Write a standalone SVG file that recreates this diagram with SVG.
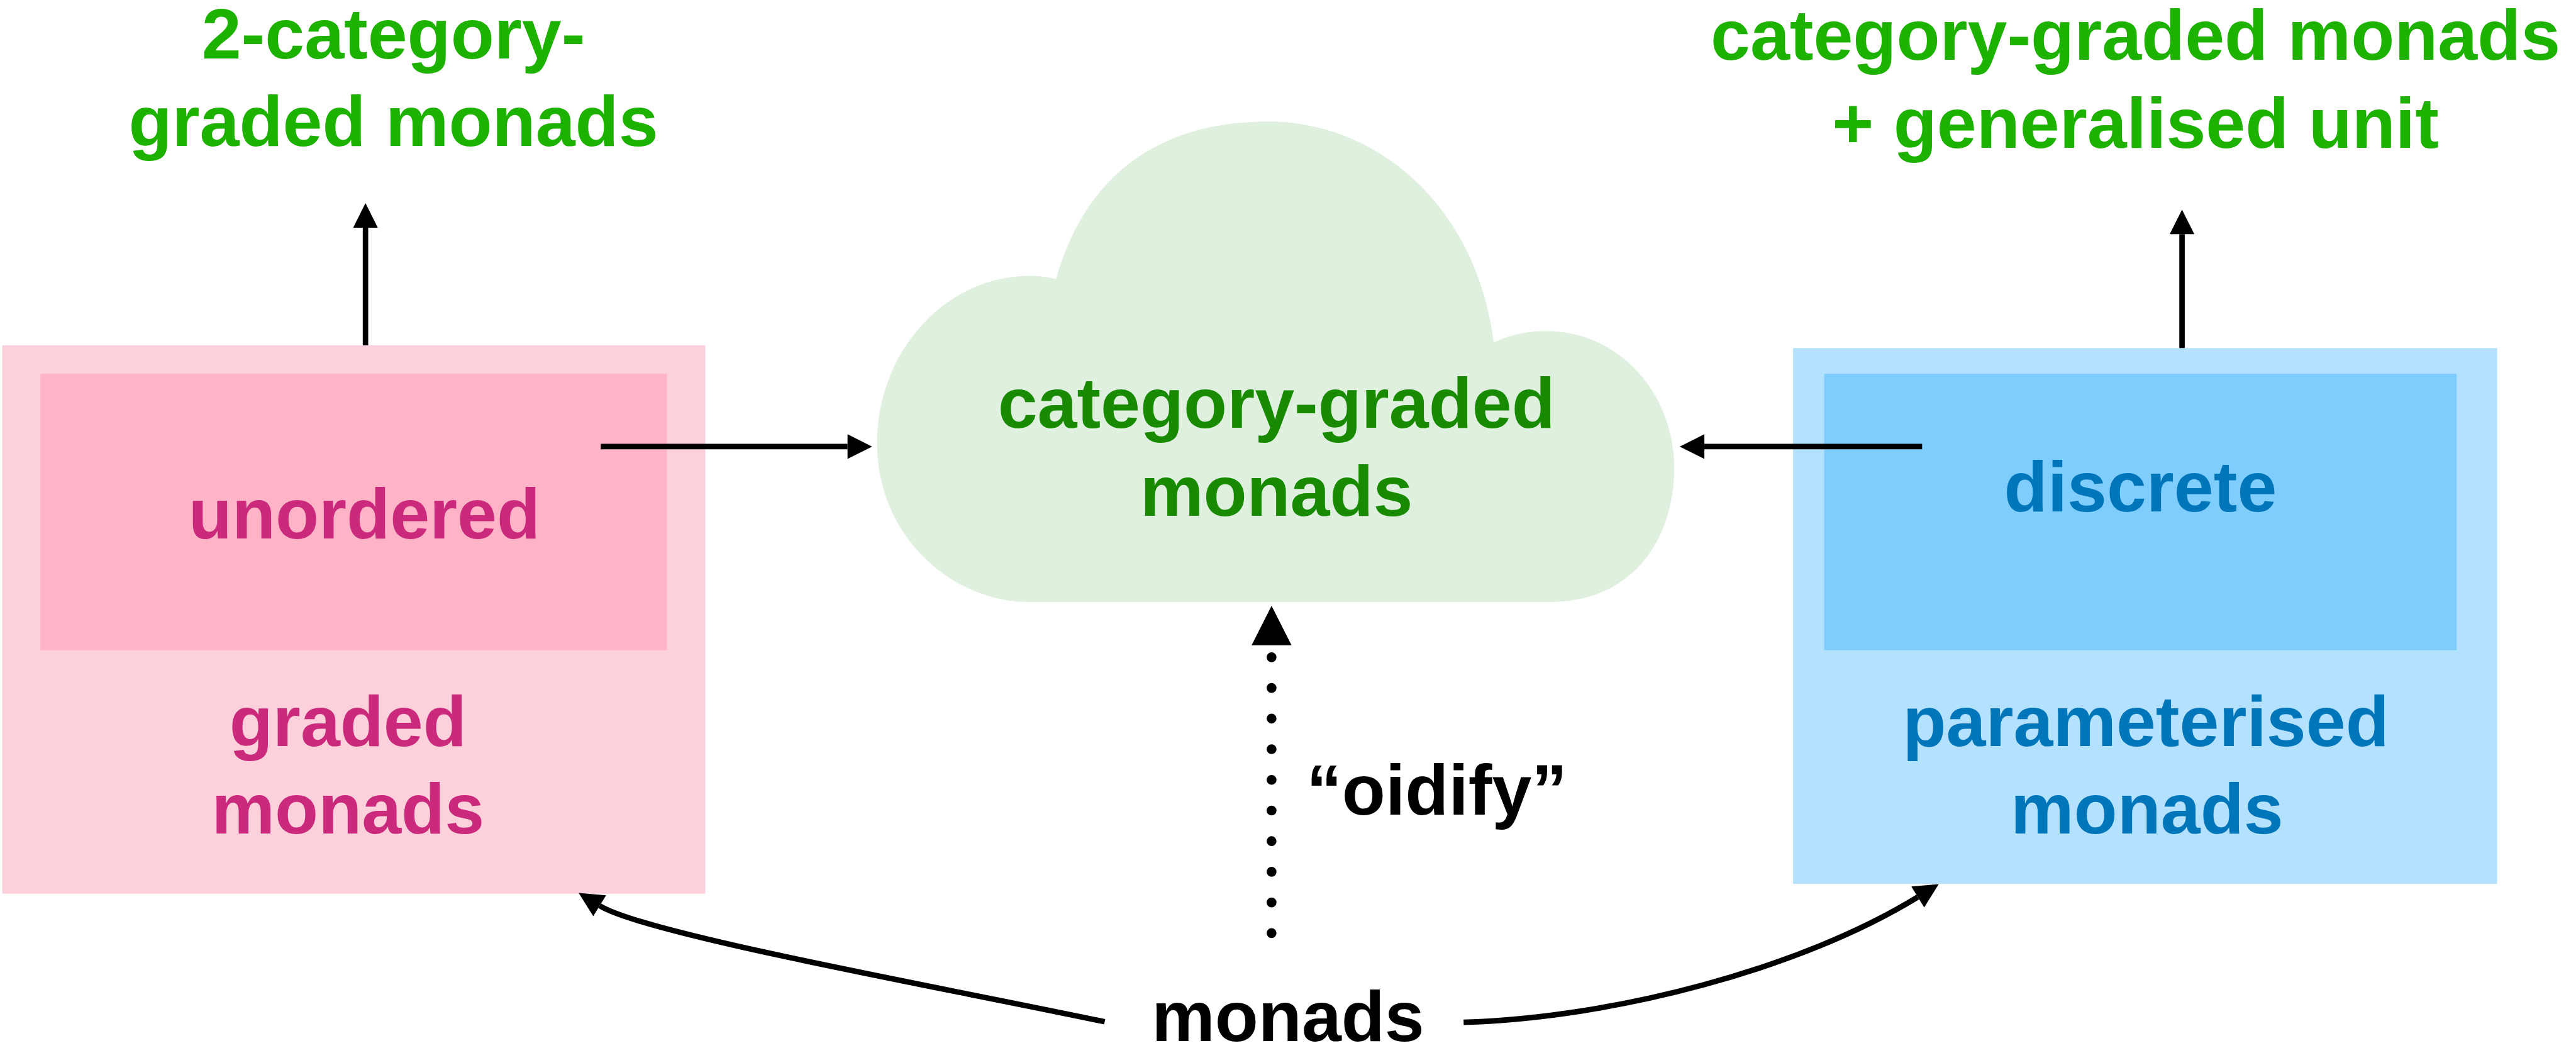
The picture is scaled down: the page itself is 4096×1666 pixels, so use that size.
<svg xmlns="http://www.w3.org/2000/svg" width="4096" height="1666" viewBox="0 0 4096 1666">
<style>
.lbl{font-family:"Liberation Sans",Arial,Helvetica,sans-serif;font-weight:bold;font-size:130px;text-anchor:middle}
.green{fill:#1DB100}
.dkgreen{fill:#178A00}
.pink{fill:#CB297B}
.blue{fill:#0076BA}
.black{fill:#000000}
.conn{fill:none;stroke:#000000;stroke-width:10}
.dots{fill:none;stroke:#000000;stroke-width:18;stroke-linecap:round;stroke-dasharray:0 56;stroke-dashoffset:51}
</style>
<defs>
<marker id="arrow" markerUnits="userSpaceOnUse" viewBox="0 0 45 45" markerWidth="45" markerHeight="45" refX="0" refY="22.5" orient="auto" overflow="visible">
<path d="M0,0 L45,22.5 L0,45 Z" fill="#000000"/>
</marker>
<marker id="arrowBig" markerUnits="userSpaceOnUse" viewBox="0 0 72 73" markerWidth="72" markerHeight="73" refX="0" refY="36.5" orient="auto" overflow="visible">
<path d="M0,0 L72,36.5 L0,73 Z" fill="#000000"/>
</marker>
</defs>
<rect width="4096" height="1666" fill="#FFFFFF"/>
<g transform="scale(0.870)">
<g id="node-2cat">
<text class="lbl green" x="719" y="107">2-category-</text>
<text class="lbl green" x="719" y="267">graded monads</text>
</g>
<g id="node-catgen">
<text class="lbl green" x="3903" y="109">category-graded monads</text>
<text class="lbl green" x="3903" y="270">+ generalised unit</text>
</g>
<g id="node-graded">
<rect x="4" y="631" width="1285" height="1002" fill="#FDD1DC"/>
<g id="node-unordered">
<rect x="74" y="683" width="1145" height="505" fill="#FFB3C7"/>
<text class="lbl pink" x="666" y="984">unordered</text>
</g>
<text class="lbl pink" x="636" y="1363">graded</text>
<text class="lbl pink" x="636" y="1523">monads</text>
</g>
<g id="node-param">
<rect x="3277" y="636" width="1287" height="979" fill="#B4E1FD"/>
<g id="node-discrete">
<rect x="3334" y="683" width="1156" height="505" fill="#7FCDFD"/>
<text class="lbl blue" x="3912" y="934">discrete</text>
</g>
<text class="lbl blue" x="3922" y="1363">parameterised</text>
<text class="lbl blue" x="3924" y="1523">monads</text>
</g>
<g id="node-cloud">
<path d="M1880 1100 C1740 1100 1603 980 1603 810 C1603 640 1730 504 1882 504 C1900 504 1915 506 1930 510 C1990 300 2140 222 2317 222 C2520 222 2700 380 2730 626 C2760 612 2790 605 2826 605 C2960 605 3060 720 3060 854 C3060 990 2980 1100 2833 1100 Z" fill="#DFF0DF"/>
<text class="lbl dkgreen" x="2333" y="782">category-graded</text>
<text class="lbl dkgreen" x="2333" y="942">monads</text>
</g>
<g id="node-monads">
<text class="lbl black" x="2354" y="1902">monads</text>
</g>
<g id="connectors">
<path class="conn" d="M668 631 V416" marker-end="url(#arrow)"/>
<path class="conn" d="M3988 636 V428" marker-end="url(#arrow)"/>
<path class="conn" d="M1098 816 H1549" marker-end="url(#arrow)"/>
<path class="conn" d="M3513 816 H3115" marker-end="url(#arrow)"/>
<path class="conn" d="M2019 1867 C1700 1800 1181 1707 1096 1655" marker-end="url(#arrow)"/>
<path class="conn" d="M2675 1868 C2950 1860 3292 1770 3505 1639" marker-end="url(#arrow)"/>
<path class="dots" d="M2324 1710 V1179" marker-end="url(#arrowBig)"/>
<text class="lbl black" x="2626" y="1488">“oidify”</text>
</g>
</g>
</svg>
